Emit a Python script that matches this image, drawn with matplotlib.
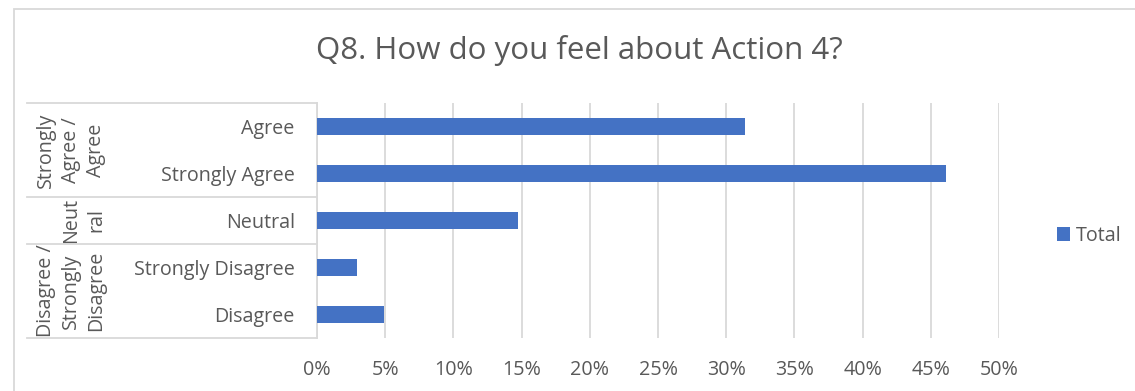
import matplotlib
matplotlib.use('Agg')
import matplotlib.pyplot as plt
import matplotlib.transforms as mtransforms
from matplotlib.lines import Line2D
from matplotlib.patches import Rectangle

plt.rcParams['font.family'] = ['Open Sans', 'DejaVu Sans']

# data (top to bottom)
categories = ['Agree', 'Strongly Agree', 'Neutral', 'Strongly Disagree', 'Disagree']
totals = [31.4, 46.1, 14.7, 2.9, 4.9]
groups = ['Strongly\nAgree /\nAgree', 'Neut\nral', 'Disagree /\nStrongly\nDisagree']
group_spans = [(0, 1), (2, 2), (3, 4)]
x_ticks = [0, 5, 10, 15, 20, 25, 30, 35, 40, 45, 50]

TXT = '#595959'
GRID = '#d9d9d9'
BLUE = '#4472C4'
W, H = 1135, 391
FS = 14.2

fig = plt.figure(figsize=(W / 100, H / 100), dpi=100)
ax = fig.add_axes([317 / W, 53 / H, 682 / W, 235 / H])

ypos = list(range(len(categories)))
ax.barh(ypos, totals, height=0.35, color=BLUE, label='Total', zorder=3)
ax.set_xlim(0, 50)
ax.set_ylim(len(categories) - 0.5, -0.5)
ax.set_xticks(x_ticks)
ax.set_xticklabels([f'{t}%' for t in x_ticks], fontsize=FS, color=TXT)
ax.set_yticks(ypos)
ax.set_yticklabels(categories, fontsize=FS, color=TXT)
ax.tick_params(axis='x', length=0, pad=16)
ax.tick_params(axis='y', length=0, pad=16)
ax.grid(axis='x', color=GRID, linewidth=1.3, zorder=0)
for s in ['top', 'right', 'bottom']:
    ax.spines[s].set_visible(False)
ax.spines['left'].set_color(GRID)
ax.spines['left'].set_linewidth(1.3)

# group label area (x in figure fraction, y in data)
trans = mtransforms.blended_transform_factory(fig.transFigure, ax.transData)
bounds = [-0.5] + [g[1] + 0.5 for g in group_spans]
for b in bounds:
    fig.add_artist(Line2D([27 / W, 317 / W], [b, b], transform=trans,
                          color=GRID, linewidth=1.3, clip_on=False))
for name, (a, b), xc in zip(groups, group_spans, [71, 84, 71]):
    ax.text(xc / W, (a + b) / 2, name, transform=trans, rotation=90,
            ha='center', va='center', fontsize=FS, color=TXT,
            multialignment='center', linespacing=1.35)

# chart border
fig.add_artist(Rectangle((14 / W, -0.1), 1.2, 1 - 9 / H + 0.1,
                         transform=fig.transFigure, fill=False,
                         edgecolor=GRID, linewidth=1.3))

fig.text(579 / W, 1 - 51 / H, 'Q8. How do you feel about Action 4?',
         ha='center', va='center', fontsize=22.5, color=TXT)

leg = fig.legend(loc='center left', bbox_to_anchor=(1057 / W, 1 - 236 / H),
                 frameon=False, fontsize=FS, handlelength=0.65,
                 handleheight=0.65, handletextpad=0.3, borderaxespad=0,
                 borderpad=0)
for t in leg.get_texts():
    t.set_color(TXT)

fig.savefig('out.png', dpi=100)
